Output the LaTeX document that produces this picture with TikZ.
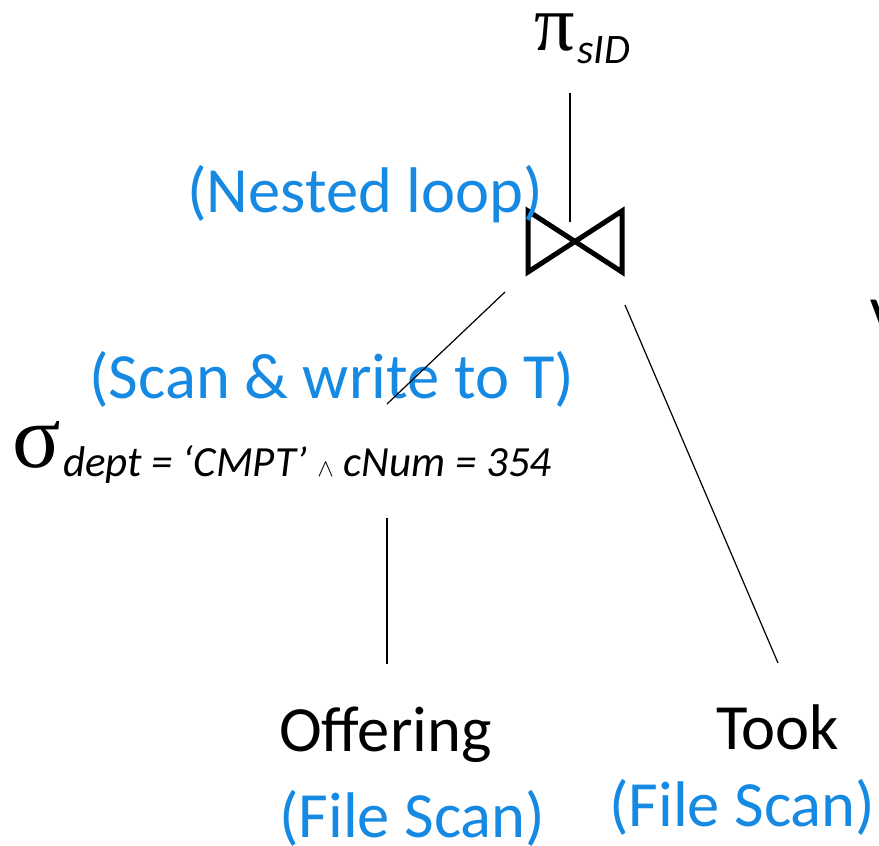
\documentclass[tikz,border=0pt]{standalone}
\usepackage{fontspec}
\setmainfont{Carlito}
\newfontfamily\greekfont{Liberation Serif}
\definecolor{planblue}{RGB}{22,137,226}
\begin{document}
\begin{tikzpicture}[x=1pt,y=-1pt,
  edge/.style={line width=1.2pt,black},
  note/.style={inner sep=0pt,anchor=base west,text=planblue,font=\fontsize{64.5}{64.5}\selectfont},
  relname/.style={inner sep=0pt,anchor=base west,font=\fontsize{64.5}{64.5}\selectfont},
  opsym/.style={inner sep=0pt,anchor=base west},
  sub/.style={inner sep=0pt,anchor=base west,font=\fontsize{43}{43}\selectfont\itshape}]
\useasboundingbox (0,0) rectangle (879,846);

% projection
\node[opsym,font=\greekfont\fontsize{80}{80}\selectfont] (pi) at (534,50) {π};
\node[sub,font=\fontsize{42}{42}\selectfont\itshape] (pisub) at (577,63) {sID};

% join symbol
\coordinate (jc) at (575,241);
\draw[line width=5pt,line join=miter] (528,211) -- (622,272) -- (622,211) -- (528,272) -- cycle;
\node[note] (nl) at (187,212) {(Nested loop)};

% selection
\node[opsym,font=\greekfont\fontsize{90}{90}\selectfont] (sigma) at (12,467) {σ};
\node[sub] (sigsub) at (63,476) {dept = ‘CMPT’ {\fontsize{30}{30}\selectfont$\wedge$} cNum = 354};
\node[note] (sw) at (89,398) {(Scan \& write to T)};

% relations
\node[relname] (off) at (279,751) {Offering};
\node[note] (offscan) at (279,837) {(File Scan)};
\node[relname] (took) at (716,749) {Took};
\node[note] (tookscan) at (609,826) {(File Scan)};
\node[relname] (cut) at (870,341) {V};

% connectors
\coordinate (piB) at (570,93);
\coordinate (jT) at (570,222);
\coordinate (jL) at (505,292);
\coordinate (sT) at (387,404);
\coordinate (sB) at (387,518);
\coordinate (offT) at (387,664);
\coordinate (jR) at (625,305);
\coordinate (tookT) at (778,663);
\draw[edge] (piB) -- (jT);
\draw[edge] (jL) -- (sT);
\draw[edge] (sB) -- (offT);
\draw[edge] (jR) -- (tookT);
\end{tikzpicture}
\end{document}
